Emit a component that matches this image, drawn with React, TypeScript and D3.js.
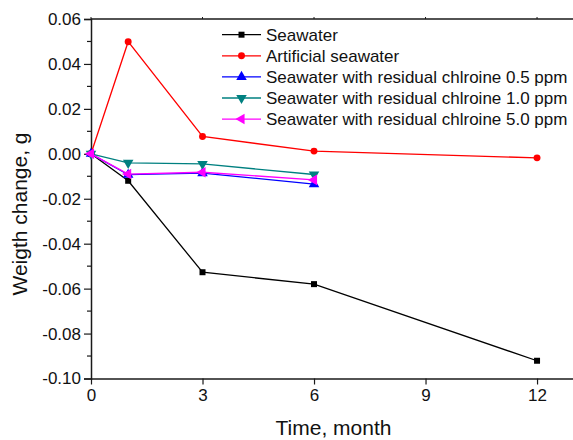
import React, { useEffect, useRef } from 'react';
import * as d3 from 'd3';

const months = [0, 1, 3, 6, 12];
const shortMonths = [0, 1, 3, 6];
const seawater = [0, -0.012, -0.0527, -0.058, -0.0921];
const artificial = [0, 0.0499, 0.0077, 0.0012, -0.0018];
const chlorine05 = [0, -0.0093, -0.0086, -0.0135];
const chlorine10 = [0, -0.004, -0.0045, -0.0092];
const chlorine50 = [0, -0.009, -0.0082, -0.0116];

const xTicks = [0, 3, 6, 9, 12];
const yTicks = [-0.1, -0.08, -0.06, -0.04, -0.02, 0, 0.02, 0.04, 0.06];

const series = [
  { name: 'Seawater', x: months, y: seawater, color: '#000000', marker: 'square' },
  { name: 'Artificial seawater', x: months, y: artificial, color: '#ff0000', marker: 'circle' },
  { name: 'Seawater with residual chlroine 0.5 ppm', x: shortMonths, y: chlorine05, color: '#0000ff', marker: 'up' },
  { name: 'Seawater with residual chlroine 1.0 ppm', x: shortMonths, y: chlorine10, color: '#008080', marker: 'down' },
  { name: 'Seawater with residual chlroine 5.0 ppm', x: shortMonths, y: chlorine50, color: '#ff00ff', marker: 'left' },
];

const font = 'Arial, "Liberation Sans", sans-serif';

const Chart = () => {
  const svgRef = useRef(null);

  useEffect(() => {
    const width = 573;
    const height = 440;
    const left = 91;
    const top = 19;
    const bottom = 378.5;

    const svg = d3.select(svgRef.current);
    svg.selectAll('*').remove();
    svg.attr('width', width).attr('height', height);

    // x runs past the right edge, the frame is cut off there
    const x = d3.scaleLinear().domain([0, 15]).range([left, left + 15 * 37.17]);
    const y = d3.scaleLinear().domain([-0.1, 0.06]).range([bottom, top]);

    const axisColor = '#1a1a1a';

    // frame: top line
    svg.append('line')
      .attr('x1', left).attr('x2', width + 5)
      .attr('y1', top).attr('y2', top)
      .attr('stroke', axisColor).attr('stroke-width', 1.5);

    svg.append('g')
      .selectAll('line')
      .data(xTicks)
      .join('line')
      .attr('x1', d => x(d)).attr('x2', d => x(d))
      .attr('y1', top).attr('y2', top - 2)
      .attr('stroke', axisColor).attr('stroke-width', 1);

    // left axis
    const yAxis = d3.axisLeft(y)
      .tickValues(yTicks)
      .tickSize(7)
      .tickPadding(3)
      .tickFormat(d => (Math.abs(d) < 1e-9 ? 0 : d).toFixed(2));

    const yMinor = d3.range(-0.09, 0.06, 0.02);
    svg.append('g')
      .selectAll('line')
      .data(yMinor)
      .join('line')
      .attr('x1', left - 4).attr('x2', left)
      .attr('y1', d => y(d)).attr('y2', d => y(d))
      .attr('stroke', axisColor).attr('stroke-width', 1.2);

    const gy = svg.append('g')
      .attr('transform', `translate(${left},0)`)
      .call(yAxis);
    gy.select('.domain').attr('stroke', axisColor).attr('stroke-width', 1.5);
    gy.selectAll('.tick line').attr('stroke', axisColor).attr('stroke-width', 1.2);
    gy.selectAll('.tick text')
      .attr('font-family', font).attr('font-size', 17).attr('fill', '#111');

    // bottom axis
    const xAxis = d3.axisBottom(x)
      .tickValues(xTicks)
      .tickSize(6)
      .tickPadding(4)
      .tickSizeOuter(0);

    const gx = svg.append('g')
      .attr('transform', `translate(0,${bottom})`)
      .call(xAxis);
    gx.select('.domain').attr('stroke', axisColor).attr('stroke-width', 1.5);
    gx.selectAll('.tick line').attr('stroke', axisColor).attr('stroke-width', 1.2);
    gx.selectAll('.tick text')
      .attr('font-family', font).attr('font-size', 17).attr('fill', '#111');

    // axis titles
    svg.append('text')
      .attr('x', 333.5).attr('y', 435)
      .attr('text-anchor', 'middle')
      .attr('font-family', font).attr('font-size', 21).attr('fill', '#111')
      .text('Time, month');

    svg.append('text')
      .attr('transform', 'rotate(-90)')
      .attr('x', -214).attr('y', 27)
      .attr('text-anchor', 'middle')
      .attr('font-family', font).attr('font-size', 21).attr('fill', '#111')
      .text('Weigth change, g');

    const markerPath = (type) => {
      if (type === 'square') return d3.symbol(d3.symbolSquare, 36)();
      if (type === 'circle') return d3.symbol(d3.symbolCircle, 38)();
      return d3.symbol(d3.symbolTriangle, 48)();
    };
    const markerRotate = (type) => (type === 'down' ? 180 : type === 'left' ? -90 : 0);

    const line = d3.line()
      .x(d => x(d[0]))
      .y(d => y(d[1]));

    series.forEach(s => {
      const pts = s.x.map((m, i) => [m, s.y[i]]);
      const g = svg.append('g');
      g.append('path')
        .datum(pts)
        .attr('d', line)
        .attr('fill', 'none')
        .attr('stroke', s.color)
        .attr('stroke-width', 1.3);
      g.selectAll('path.marker')
        .data(pts)
        .join('path')
        .attr('class', 'marker')
        .attr('d', markerPath(s.marker))
        .attr('transform', d => `translate(${x(d[0])},${y(d[1])}) rotate(${markerRotate(s.marker)})`)
        .attr('fill', s.color);
    });

    // legend
    const legend = svg.append('g');
    series.forEach((s, i) => {
      const cy = 34.7 + i * 21.1;
      legend.append('line')
        .attr('x1', 222).attr('x2', 261)
        .attr('y1', cy).attr('y2', cy)
        .attr('stroke', s.color).attr('stroke-width', 1.3);
      legend.append('path')
        .attr('d', markerPath(s.marker))
        .attr('transform', `translate(241.5,${cy}) rotate(${markerRotate(s.marker)})`)
        .attr('fill', s.color);
      legend.append('text')
        .attr('x', 266).attr('y', cy + 6)
        .attr('font-family', font).attr('font-size', 17).attr('fill', '#111')
        .text(s.name);
    });
  });

  return (
    <svg ref={svgRef} style={{ position: 'absolute', left: 0, top: 0 }}></svg>
  );
};

export default function App() {
  return <Chart />;
}
